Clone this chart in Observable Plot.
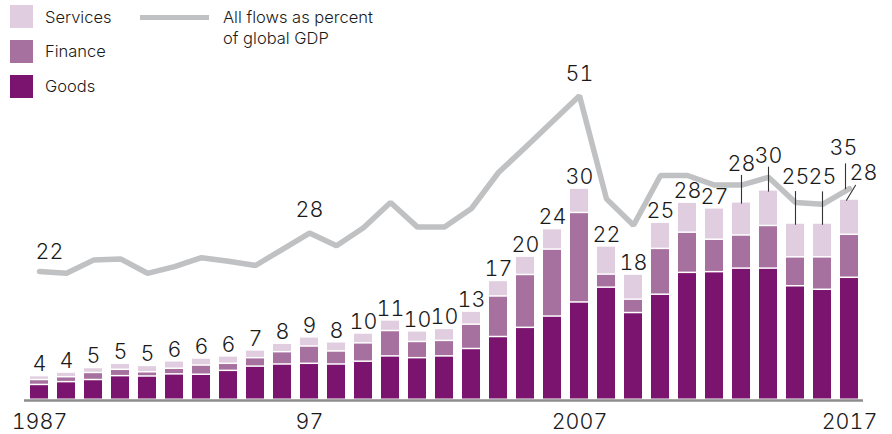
<!DOCTYPE html>
<html><head><meta charset="utf-8">
<script src="https://cdn.jsdelivr.net/npm/d3@7"></script>
<script src="https://cdn.jsdelivr.net/npm/@observablehq/plot@0.6"></script>
<style>
html,body{margin:0;padding:0;background:#fff;}
#wrap{position:relative;width:892px;height:434px;overflow:hidden;font-family:Inter,"Liberation Sans",Arial,sans-serif;font-weight:300;color:#1a1a1a;}
#wrap > svg{position:absolute;left:0;top:0;font-variant-numeric:tabular-nums;}
.sw{position:absolute;left:10px;width:23px;height:23px;}
.lt{position:absolute;font-size:16.5px;line-height:21px;white-space:nowrap;color:#1a1a1a;}
</style></head><body>
<div id="wrap"></div>
<script>
// ---- data ----
const years = [1987,1988,1989,1990,1991,1992,1993,1994,1995,1996,1997,1998,1999,2000,2001,2002,2003,2004,2005,2006,2007,2008,2009,2010,2011,2012,2013,2014,2015,2016,2017];
const goods    = [2.1,2.5,2.8,3.35,3.3,3.6,3.55,4.1,4.7,5.0,5.1,5.0,5.4,6.15,5.9,6.15,7.2,8.9,10.2,11.8,13.8,15.9,12.3,14.9,18.0,18.1,18.6,18.6,16.1,15.6,17.3];
const finance  = [0.7,0.7,1.0,0.9,0.6,0.8,1.3,1.0,1.2,1.75,2.45,1.85,2.6,3.6,2.3,2.2,3.45,5.75,7.5,9.5,12.7,1.85,1.9,6.5,5.7,4.6,4.7,6.05,4.1,4.6,6.1];
const services = [0.55,0.65,0.7,0.85,0.9,1.05,1.0,1.05,1.1,1.2,1.3,1.3,1.4,1.5,1.5,1.7,1.85,2.2,2.6,2.9,3.45,4.0,3.55,3.7,4.25,4.45,4.7,5.05,4.8,4.8,5.0];
const totalLabels = ["4","4","5","5","5","6","6","6","7","8","9","8","10","11","10","10","13","17","20","24","30","22","18","25","28","27","28","30","25","25","28"];
const flowsPctGDP = [21.5,21.2,23.4,23.6,21.2,22.3,23.8,23.2,22.5,25.2,27.9,25.8,28.8,33.0,28.9,28.9,32.0,38.0,42.2,46.5,50.8,33.6,29.2,37.5,37.5,35.9,35.9,37.2,33.0,32.7,35.3];
const lineLabelYears = [1987,1997,2007,2017];
const lineLabels = ["22","28","51","35"];
const tickYears = [1987,1997,2007,2017];
const tickLabels = ["1987","97","2007","2017"];
const seriesNames = ["Goods","Finance","Services"];
const seriesColors = ["#7b146e","#a6709f","#e0cde0"];

// ---- layout ----
const W = 892, H = 434;
const FONT = 'Inter, "Liberation Sans", Arial, sans-serif';
const TXT = "#1a1a1a";
const frame = {width: W, height: H, marginLeft: 19.4, marginRight: 23.5, marginTop: 0, marginBottom: 34};
const xOpts = {type: "band", domain: years, padding: 0.35, axis: null};
const barPxPerUnit = 7.05, linePxPerUnit = 6;
const calloutLayout = [
  {year: 2013, gap: 31.7, leader: 27.7},
  {year: 2014, gap: 28, leader: 24},
  {year: 2015, gap: 40.4, leader: 32.7},
  {year: 2016, gap: 40, leader: 32.4}
];
const stem = {draw(context, l) { context.moveTo(0, 0); context.lineTo(0, -l); }};

// ---- derived tables ----
const seriesArrays = [goods, finance, services];
const stacked = [];
years.forEach((yr, i) => seriesNames.forEach((s, k) => stacked.push({year: yr, type: s, value: seriesArrays[k][i]})));
const totals = years.map((yr, i) => ({year: yr, total: goods[i] + finance[i] + services[i], label: totalLabels[i]}));
const lineData = years.map((yr, i) => ({year: yr, pct: flowsPctGDP[i]}));
const lineLabelData = lineLabelYears.map((yr, i) => ({year: yr, pct: flowsPctGDP[years.indexOf(yr)], label: lineLabels[i]}));
const ticks = tickYears.map((yr, i) => ({year: yr, label: tickLabels[i]}));
const calloutYears = new Set(calloutLayout.map(c => c.year));
const lastYear = years[years.length - 1];
const plain = totals.filter(d => !calloutYears.has(d.year) && d.year !== lastYear);

const textOpts = {fill: TXT, fontSize: 21.5, fontWeight: 300, lineAnchor: "bottom", textAnchor: "middle"};

// ---- line plot (underneath) ----
const linePlot = Plot.plot({
  ...frame,
  style: {background: "transparent", fontFamily: FONT},
  x: xOpts,
  y: {domain: [0, (H - frame.marginBottom) / linePxPerUnit], axis: null},
  marks: [
    Plot.line(lineData, {x: "year", y: "pct", stroke: "#c0c1c3", strokeWidth: 5.5, strokeLinejoin: "miter", strokeLinecap: "round"}),
    Plot.text(lineLabelData.filter(d => d.year === 1987), {x: "year", y: "pct", text: "label", dx: 10, dy: -12.7, ...textOpts}),
    Plot.text(lineLabelData.filter(d => d.year === 1997), {x: "year", y: "pct", text: "label", dy: -16, ...textOpts}),
    Plot.text(lineLabelData.filter(d => d.year === 2007), {x: "year", y: "pct", text: "label", dy: -14.5, ...textOpts}),
    Plot.text(lineLabelData.filter(d => d.year === 2017), {x: "year", y: "pct", text: "label", dx: -6, dy: -34, ...textOpts}),
    Plot.vector(lineLabelData.filter(d => d.year === 2017), {x: "year", y: "pct", dx: -4, length: 25, rotate: 0, anchor: "start", shape: stem, stroke: "#333", strokeWidth: 1.1})
  ]
});

// ---- bar plot (on top) ----
const barPlot = Plot.plot({
  ...frame,
  style: {background: "transparent", fontFamily: FONT},
  x: xOpts,
  y: {domain: [0, (H - frame.marginBottom) / barPxPerUnit], axis: null},
  color: {domain: seriesNames, range: seriesColors},
  marks: [
    Plot.barY(stacked, {x: "year", y: "value", fill: "type", order: seriesNames, insetBottom: 1.5}),
    Plot.ruleY([0], {stroke: "#8c8c8c", strokeWidth: 2.5, insetLeft: 4.6, insetRight: 5.5}),
    Plot.text(plain, {x: "year", y: "total", text: "label", dy: -5.5, ...textOpts}),
    ...calloutLayout.map(c => Plot.text(totals.filter(d => d.year === c.year), {x: "year", y: "total", text: "label", dy: -c.gap, ...textOpts})),
    ...calloutLayout.map(c => Plot.vector(totals.filter(d => d.year === c.year), {x: "year", y: "total", length: c.leader, rotate: 0, anchor: "start", shape: stem, stroke: "#333", strokeWidth: 1.1})),
    Plot.text(totals.filter(d => d.year === lastYear), {x: "year", y: "total", text: "label", dx: 14, dy: -20, ...textOpts}),
    Plot.vector(totals.filter(d => d.year === lastYear), {x: "year", y: "total", dx: -3, length: 17.5, rotate: 31, anchor: "start", shape: stem, stroke: "#333", strokeWidth: 1.1}),
    Plot.text(ticks, {x: "year", text: "label", frameAnchor: "bottom", dy: 13.5, fill: TXT, fontSize: 21.5, fontWeight: 300, lineAnchor: "top", textAnchor: "middle"})
  ]
});

const wrap = document.getElementById("wrap");
wrap.appendChild(linePlot);
wrap.appendChild(barPlot);

// ---- legend (overlay) ----
const legend = document.createElement("div");
const swatches = [["Services", seriesColors[2], 5, 7.4], ["Finance", seriesColors[1], 40, 40.7], ["Goods", seriesColors[0], 75, 75.7]];
let html = "";
for (const [name, col, top, ttop] of swatches) {
  html += `<div class="sw" style="top:${top}px;background:${col}"></div>`;
  html += `<div class="lt" style="left:45px;top:${ttop}px">${name}</div>`;
}
html += `<div style="position:absolute;left:140px;top:14.5px;width:69px;height:5px;background:#c0c1c3"></div>`;
html += `<div class="lt" style="left:223px;top:6.7px">All flows as percent<br>of global GDP</div>`;
legend.innerHTML = html;
wrap.appendChild(legend);
</script>
</body></html>
